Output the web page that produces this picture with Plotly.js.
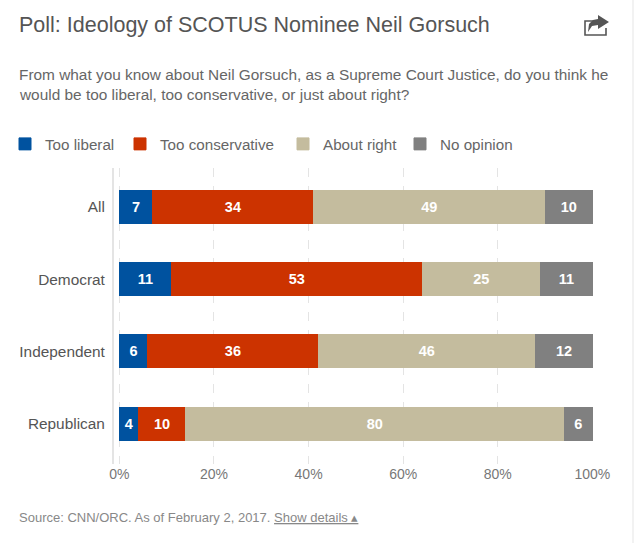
<!DOCTYPE html>
<html><head><meta charset="utf-8">
<script src="https://cdn.plot.ly/plotly-3.0.1.min.js"></script>
<style>html,body{margin:0;padding:0;background:#fff}#c{width:640px;height:547px}</style>
</head><body><div id="c"></div>
<script>
const categories = ["All","Democrat","Independent","Republican"];
const tooLiberal = [7,11,6,4];
const tooConservative = [34,53,36,10];
const aboutRight = [49,25,46,80];
const noOpinion = [10,11,12,6];
const seriesNames = ["Too liberal","Too conservative","About right","No opinion"];
const seriesColors = ["#00529f","#cc3300","#c4bc9e","#808080"];
const xTicks = [0,20,40,60,80,100];
const xTickLabels = ["0%","20%","40%","60%","80%","100%"];

const W=640,H=547,FONT='"Liberation Sans", Arial, sans-serif';
const L=114,R=47,T=168,B=83;
const px=x=>(x-L)/(W-L-R), py=y=>1-(y-T)/(H-T-B);
const legendIds=['legend','legend2','legend3','legend4'];
const legendLeft=[5,120,283,400];
const traces=[tooLiberal,tooConservative,aboutRight,noOpinion].map((v,i)=>({
  type:'bar',orientation:'h',name:seriesNames[i],y:categories,x:v,legend:legendIds[i],
  marker:{color:seriesColors[i],line:{color:seriesColors[i],width:1}},
  text:v.map(String),textposition:'inside',insidetextanchor:'middle',textangle:0,
  constraintext:'none',
  insidetextfont:{color:'#fff',size:14.5,family:FONT,weight:'bold'},
  hoverinfo:'x+name'
}));
const ann=(x,y,text,size,color)=>({xref:'paper',yref:'paper',x:px(x),y:py(y),text,showarrow:false,
  xanchor:'left',yanchor:'middle',align:'left',borderpad:0,borderwidth:0,font:{family:FONT,size,color}});
const pth=(pts,close)=>'M'+pts.map(p=>px(p[0]).toFixed(5)+','+py(p[1]).toFixed(5)).join('L')+(close?'Z':'');
const layout={
  width:W,height:H,paper_bgcolor:'#fff',plot_bgcolor:'#fff',
  margin:{l:L,r:R,t:T,b:B},barmode:'stack',bargap:0.544,showlegend:true,
  font:{family:FONT},
  xaxis:{range:[-1.14,100.13],tickvals:xTicks,ticktext:xTickLabels,showgrid:true,gridcolor:'#e4e4e4',griddash:'dash',gridwidth:1,
    zeroline:false,ticks:'',tickfont:{family:FONT,size:14,color:'#777'},
    showline:false,fixedrange:true},
  yaxis:{type:'category',categoryorder:'array',categoryarray:categories,range:[3.56,-0.54],showgrid:false,zeroline:false,
    showline:true,linecolor:'#e4e4e4',linewidth:2,ticks:'outside',ticklen:4,tickcolor:'rgba(0,0,0,0)',
    tickfont:{family:FONT,size:15.4,color:'#555'},fixedrange:true},
  annotations:[
    ann(19,25,'Poll: Ideology of SCOTUS Nominee Neil Gorsuch',21.5,'#555'),
    ann(19,75,'From what you know about Neil Gorsuch, as a Supreme Court Justice, do you think he',15.4,'#666'),
    ann(19,95,'would be too liberal, too conservative, or just about right?',15.4,'#666'),
    ann(19,517,'Source: CNN/ORC. As of February 2, 2017. <u>Show details ▴</u>',13,'#888')
  ],
  shapes:[
    {type:'line',xref:'paper',yref:'paper',x0:px(633),x1:px(633),y0:py(0),y1:py(543),line:{color:'#eeeeee',width:1.5},layer:'below'},
    {type:'path',xref:'paper',yref:'paper',line:{color:'#555',width:1.6},fillcolor:'rgba(0,0,0,0)',
      path:pth([[597,21],[585,21],[585,35],[606,35],[606,28]],false)},
    {type:'path',xref:'paper',yref:'paper',line:{width:0},fillcolor:'#555',
      path:pth([[598,15],[609,22],[598,29],[598,25],[592,26],[588,32],[589,24],[593,20],[598,19]],true)}
  ]
};
legendIds.forEach((id,i)=>{
  layout[id]={orientation:'h',x:legendLeft[i]/W,xref:'container',xanchor:'left',y:1-144/H,yref:'container',yanchor:'middle',
    font:{family:FONT,size:15.2,color:'#666'},bgcolor:'rgba(0,0,0,0)'};
});
Plotly.newPlot('c',traces,layout,{displayModeBar:false,staticPlot:true});
</script></body></html>
